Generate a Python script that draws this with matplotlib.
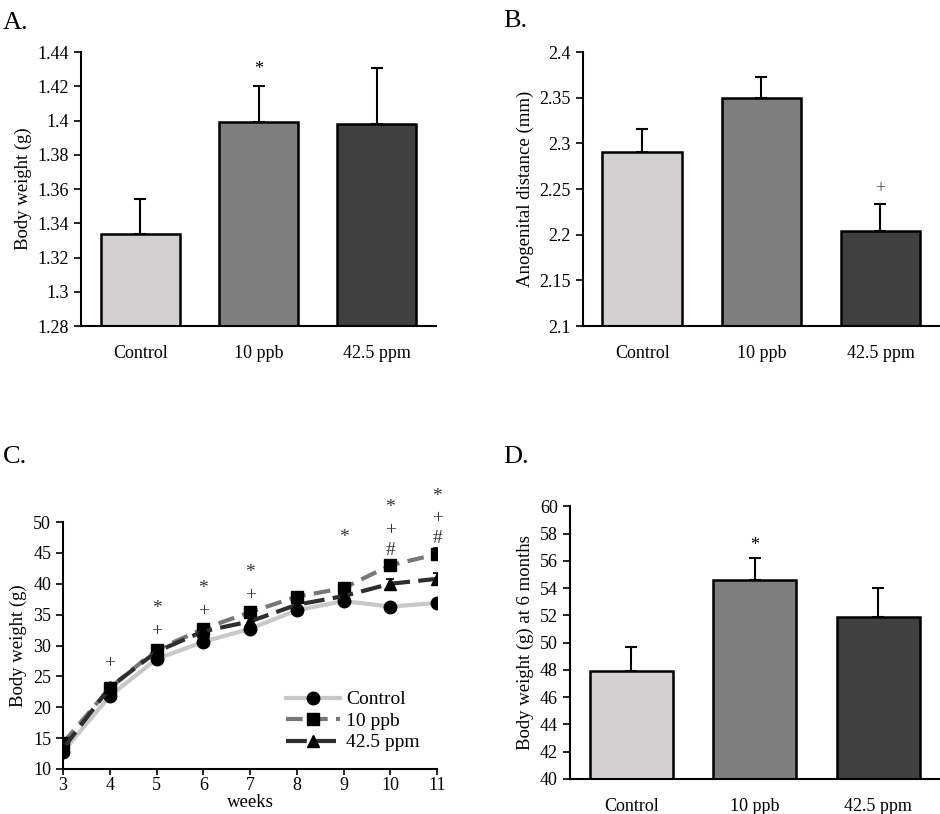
import matplotlib
matplotlib.use('Agg')

import matplotlib.pyplot as plt

plt.rcParams['font.family'] = ['Liberation Serif', 'DejaVu Serif']

# ---- data ----
groups = ['Control', '10 ppb', '42.5 ppm']
bar_colors = ['#d3d0d1', '#7f7f7f', '#404040']

# A. body weight (g)
weight_a = [1.334, 1.399, 1.398]
err_a = [0.020, 0.021, 0.033]

# B. anogenital distance (mm)
agd_b = [2.291, 2.350, 2.204]
err_b = [0.025, 0.023, 0.030]

# C. body weight over weeks
weeks = [3, 4, 5, 6, 7, 8, 9, 10, 11]
ctrl_c = [12.8, 21.8, 27.8, 30.6, 32.7, 35.7, 37.2, 36.3, 36.9]
ppb_c = [14.2, 23.1, 29.3, 32.7, 35.4, 37.9, 39.3, 43.0, 44.8]
ppm_c = [13.3, 23.2, 29.0, 32.3, 33.9, 36.6, 38.0, 40.0, 40.8]
ctrl_err = [0.4, 0.6, 0.5, 0.5, 0.6, 0.6, 0.8, 0.6, 0.6]
ppb_err = [0.5, 0.6, 0.5, 0.6, 0.6, 0.6, 0.7, 0.9, 1.0]
ppm_err = [0.4, 0.6, 0.5, 0.6, 0.6, 0.6, 0.7, 0.8, 0.9]
sig_week = [4, 5, 5, 6, 6, 7, 7, 9, 10, 10, 10, 11, 11, 11]
sig_y = [27.0, 36.0, 32.2, 39.2, 35.5, 41.8, 38.1, 47.5, 52.3, 48.6, 45.4, 54.2, 50.5, 47.4]
sig_mark = ['+', '*', '+', '*', '+', '*', '+', '*', '*', '+', '#', '*', '+', '#']

# D. body weight at 6 months
weight_d = [47.9, 54.6, 51.9]
err_d = [1.8, 1.6, 2.1]

fig = plt.figure(figsize=(9.4, 8.14), dpi=100)


def style_axes(ax):
    for s in ['top', 'right']:
        ax.spines[s].set_visible(False)
    for s in ['left', 'bottom']:
        ax.spines[s].set_linewidth(1.5)
    ax.tick_params(axis='y', direction='out', length=5, width=1.2, labelsize=13)


def bar_panel(rect, vals, errs, ylim, step, ylabel, fmt):
    ax = fig.add_axes(rect)
    x = range(len(groups))
    ax.bar(x, vals, width=0.67, color=bar_colors, edgecolor='black', linewidth=1.8, zorder=2)
    ax.errorbar(x, vals, yerr=[[0] * 3, errs], fmt='none', ecolor='black',
                elinewidth=1.5, capsize=4, capthick=1.5, zorder=3)
    ax.set_xlim(-0.5, 2.5)
    ax.set_ylim(*ylim)
    ticks = []
    t = ylim[0]
    while t <= ylim[1] + 1e-9:
        ticks.append(round(t, 4))
        t += step
    ax.set_yticks(ticks)
    ax.set_yticklabels([fmt(v) for v in ticks])
    ax.set_xticks(list(x))
    ax.set_xticklabels(groups, fontsize=13)
    ax.tick_params(axis='x', length=0, pad=14)
    ax.set_ylabel(ylabel, fontsize=13.5)
    style_axes(ax)
    return ax


def trim(v):
    s = ('%.2f' % v).rstrip('0').rstrip('.')
    return s


# A
axA = bar_panel([0.0862, 0.5995, 0.3776, 0.3365], weight_a, err_a, (1.28, 1.44), 0.02,
                'Body weight (g)', trim)
axA.text(1, 1.430, '*', ha='center', va='center', fontsize=13)

# B
axB = bar_panel([0.620, 0.5995, 0.380, 0.3365], agd_b, err_b, (2.1, 2.4), 0.05,
                'Anogenital distance (mm)', trim)
axB.text(2, 2.251, '+', ha='center', va='center', fontsize=13, color='#444444')

# D
axD = bar_panel([0.606, 0.043, 0.394, 0.335], weight_d, err_d, (40, 60), 2,
                'Body weight (g) at 6 months', lambda v: '%d' % v)
axD.text(1, 57.1, '*', ha='center', va='center', fontsize=13)

# C
axC = fig.add_axes([0.067, 0.0553, 0.398, 0.3034])
axC.plot(weeks, ctrl_c, color='#c8c8c8', lw=3, marker='o', ms=9, mfc='black', mec='black',
         label='Control', zorder=3)
axC.plot(weeks, ppb_c, color='#777777', lw=3, ls=(0, (4, 2)), marker='s', ms=9, mfc='black',
         mec='black', label='10 ppb', zorder=4)
axC.plot(weeks, ppm_c, color='#2e2e2e', lw=3, ls=(0, (5, 2)), marker='^', ms=9, mfc='black',
         mec='black', label='42.5 ppm', zorder=5)
for vals, errs in [(ctrl_c, ctrl_err), (ppb_c, ppb_err), (ppm_c, ppm_err)]:
    axC.errorbar(weeks, vals, yerr=errs, fmt='none', ecolor='black', elinewidth=1.2,
                 capsize=3, capthick=1.2, zorder=6)
for w, yv, m in zip(sig_week, sig_y, sig_mark):
    axC.text(w, yv, m, ha='center', va='center', fontsize=14, color='#333333')
axC.set_xlim(3, 11)
axC.set_ylim(10, 50)
axC.set_xticks(weeks)
axC.set_yticks(range(10, 51, 5))
style_axes(axC)
axC.tick_params(axis='x', direction='out', length=4, width=1.2, labelsize=13, pad=2)
axC.set_xlabel('weeks', fontsize=13.5, labelpad=0)
axC.set_ylabel('Body weight (g)', fontsize=13.5)
axC.legend(loc='lower right', bbox_to_anchor=(1.0, 0.0), frameon=False, fontsize=14,
           handlelength=2.8, handletextpad=0.3, labelspacing=0.2)

# panel letters
fig.text(0.003, 0.985, 'A.', fontsize=19, va='top')
fig.text(0.535, 0.988, 'B.', fontsize=19, va='top')
fig.text(0.003, 0.452, 'C.', fontsize=19, va='top')
fig.text(0.535, 0.452, 'D.', fontsize=19, va='top')

fig.savefig('out.png', dpi=100)
